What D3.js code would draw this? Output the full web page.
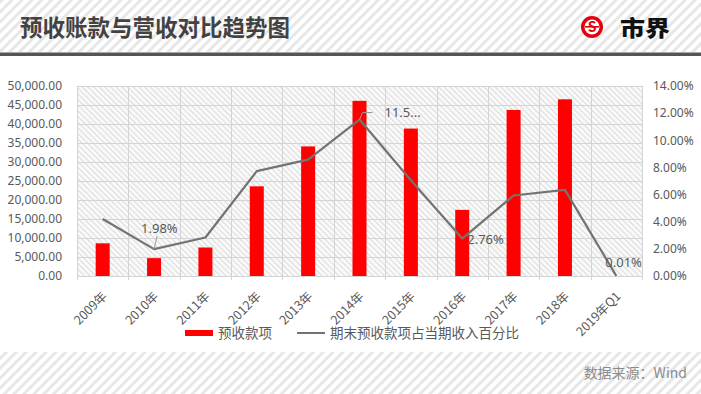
<!DOCTYPE html>
<html>
<head>
<meta charset="utf-8">
<script src="https://cdn.jsdelivr.net/npm/d3@7"></script>
<style>
  body { margin: 0; background: #fff; }
  svg { display: block; font-family: "Noto Sans CJK SC", "Noto Sans", sans-serif; }
</style>
</head>
<body>
<svg width="701" height="394"></svg>
<script>
// data
const categories = ["2009年", "2010年", "2011年", "2012年", "2013年", "2014年",
                    "2015年", "2016年", "2017年", "2018年", "2019年Q1"];
const advanceReceipts = [8600, 4700, 7500, 23600, 34100, 46100, 38800, 17400, 43700, 46500, 0];
const ratioPct = [4.20, 1.98, 2.84, 7.73, 8.57, 11.53, 7.05, 2.76, 5.93, 6.35, 0.01];
const leftTicks = [0, 5000, 10000, 15000, 20000, 25000, 30000, 35000, 40000, 45000, 50000];
const rightTicks = [0, 2, 4, 6, 8, 10, 12, 14];
const labelled = { 1: "1.98%", 5: "11.5...", 7: "2.76%", 10: "0.01%" };

const svg = d3.select("svg");
const W = 701, H = 394;
const plot = { left: 77, right: 642, top: 86, bottom: 276 };

const defs = svg.append("defs");
// light diagonal stripes for header / footer
const stripe = defs.append("pattern")
    .attr("id", "stripe")
    .attr("patternUnits", "userSpaceOnUse")
    .attr("width", 7).attr("height", 7)
    .attr("patternTransform", "rotate(45)");
stripe.append("rect").attr("width", 7).attr("height", 7).attr("fill", "#fff");
stripe.append("rect").attr("width", 3).attr("height", 7).attr("fill", "#e7e7e7");

// fine hatch inside the plot area
const hatch = defs.append("pattern")
    .attr("id", "hatch")
    .attr("patternUnits", "userSpaceOnUse")
    .attr("width", 4).attr("height", 4)
    .attr("patternTransform", "rotate(-45)");
hatch.append("rect").attr("width", 4).attr("height", 4).attr("fill", "#fbfbfb");
hatch.append("rect").attr("width", 1.3).attr("height", 4).attr("fill", "#dedede");

// header
svg.append("rect").attr("x", 0).attr("y", 0).attr("width", W).attr("height", 52).attr("fill", "url(#stripe)");
svg.append("rect").attr("x", 0).attr("y", 52.5).attr("width", W).attr("height", 3.5).attr("fill", "#555");
svg.append("text")
    .attr("x", 20).attr("y", 36)
    .attr("font-size", 23).attr("font-weight", 700)
    .attr("textLength", 270).attr("lengthAdjust", "spacingAndGlyphs")
    .attr("fill", "#424242")
    .text("预收账款与营收对比趋势图");

// logo
const logo = svg.append("g").attr("transform", "translate(592,27)");
logo.append("circle").attr("r", 11).attr("fill", "#e3000f");
logo.append("circle").attr("r", 7.5).attr("fill", "#fff");
logo.append("text").attr("y", 5).attr("text-anchor", "middle")
    .attr("font-size", 14).attr("font-weight", 700).attr("fill", "#e3000f").text("S");
logo.append("rect").attr("x", -7).attr("y", -1).attr("width", 14).attr("height", 1.6).attr("fill", "#e3000f");
svg.append("text")
    .attr("x", 620).attr("y", 36)
    .attr("font-size", 22).attr("font-weight", 900)
    .attr("textLength", 50).attr("lengthAdjust", "spacingAndGlyphs")
    .attr("fill", "#111")
    .text("市界");

// footer
svg.append("rect").attr("x", 0).attr("y", 352).attr("width", W).attr("height", H - 352).attr("fill", "url(#stripe)");
svg.append("text")
    .attr("x", 687).attr("y", 378)
    .attr("text-anchor", "end")
    .attr("font-size", 14).attr("fill", "#8c8c8c")
    .text("数据来源：Wind");

// scales
const x = d3.scaleBand().domain(categories).range([plot.left, plot.right]).paddingInner(0).paddingOuter(0);
const yL = d3.scaleLinear().domain([0, 50000]).range([plot.bottom, plot.top]);
const yR = d3.scaleLinear().domain([0, 14]).range([plot.bottom, plot.top]);
const barW = 14;

// plot background
svg.append("rect")
    .attr("x", plot.left).attr("y", plot.top)
    .attr("width", plot.right - plot.left).attr("height", plot.bottom - plot.top)
    .attr("fill", "url(#hatch)");

// grid
svg.append("g").selectAll("line.h")
    .data(leftTicks)
    .join("line")
    .attr("x1", plot.left).attr("x2", plot.right)
    .attr("y1", d => Math.round(yL(d)) + 0.5).attr("y2", d => Math.round(yL(d)) + 0.5)
    .attr("stroke", "#d4d4d4");
svg.append("g").selectAll("line.v")
    .data(categories.concat(["__end"]))
    .join("line")
    .attr("x1", (d, i) => Math.round(plot.left + i * x.bandwidth()) + 0.5)
    .attr("x2", (d, i) => Math.round(plot.left + i * x.bandwidth()) + 0.5)
    .attr("y1", plot.top).attr("y2", plot.bottom + 4)
    .attr("stroke", "#d4d4d4");

// left axis
const axL = svg.append("g")
    .attr("transform", `translate(${plot.left},0)`)
    .call(d3.axisLeft(yL).tickValues(leftTicks).tickSize(0).tickPadding(15)
        .tickFormat(d3.format(",.2f")));
axL.select(".domain").remove();
axL.selectAll("text").attr("font-size", 12).attr("fill", "#595959")
    .attr("font-family", "'Noto Sans', sans-serif");

// right axis
const axR = svg.append("g")
    .attr("transform", `translate(${plot.right},0)`)
    .call(d3.axisRight(yR).tickValues(rightTicks).tickSize(0).tickPadding(11)
        .tickFormat(d => d3.format(".2f")(d) + "%"));
axR.select(".domain").remove();
axR.selectAll("text").attr("font-size", 12).attr("fill", "#595959")
    .attr("font-family", "'Noto Sans', sans-serif");

// x axis labels
svg.append("g").selectAll("text")
    .data(categories)
    .join("text")
    .attr("transform", d => `translate(${x(d) + x.bandwidth() / 2 + 2},${plot.bottom + 18}) rotate(-45)`)
    .attr("text-anchor", "end")
    .attr("dy", "0.35em")
    .attr("font-size", 12.5)
    .attr("fill", "#595959")
    .text(d => d);

// bars
svg.append("g").selectAll("rect")
    .data(advanceReceipts)
    .join("rect")
    .attr("x", (d, i) => x(categories[i]) + x.bandwidth() / 2 - barW / 2)
    .attr("y", d => yL(d))
    .attr("width", barW)
    .attr("height", d => plot.bottom - yL(d))
    .attr("fill", "#ff0000");

// ratio line
const line = d3.line()
    .x((d, i) => x(categories[i]) + x.bandwidth() / 2)
    .y(d => yR(d));
svg.append("path")
    .datum(ratioPct)
    .attr("d", line)
    .attr("fill", "none")
    .attr("stroke", "#737373")
    .attr("stroke-width", 2.2)
    .attr("stroke-linejoin", "round");

// data labels
const px = i => x(categories[i]) + x.bandwidth() / 2;
const py = i => yR(ratioPct[i]);
const lbl = svg.append("g").attr("font-size", 13).attr("fill", "#595959")
    .attr("font-family", "'Noto Sans', sans-serif");
const leader = svg.append("g").attr("stroke", "#9a9a9a").attr("fill", "none");

lbl.append("text").attr("x", px(1) - 13).attr("y", py(1) - 16).text(labelled[1]);
leader.append("path").attr("d", `M${px(1) + 3},${py(1) - 13} L${px(1)},${py(1)}`);

lbl.append("text").attr("x", px(5) + 25).attr("y", py(5) - 3).text(labelled[5]);
leader.append("path").attr("d", `M${px(5) + 13},${py(5) - 7} L${px(5) + 3},${py(5) - 7} L${px(5)},${py(5)}`);

lbl.append("text").attr("x", px(7) + 5).attr("y", py(7) + 5).text(labelled[7]);

lbl.append("text").attr("x", px(10) - 11).attr("y", py(10) - 9).text(labelled[10]);

// legend
const leg = svg.append("g").attr("font-size", 13.5).attr("fill", "#595959");
leg.append("rect").attr("x", 185).attr("y", 330).attr("width", 28).attr("height", 6).attr("fill", "#ff0000");
leg.append("text").attr("x", 218).attr("y", 338).text("预收款项");
leg.append("line").attr("x1", 297).attr("x2", 325).attr("y1", 333).attr("y2", 333)
    .attr("stroke", "#737373").attr("stroke-width", 2);
leg.append("text").attr("x", 330).attr("y", 338).text("期末预收款项占当期收入百分比");
</script>
</body>
</html>
